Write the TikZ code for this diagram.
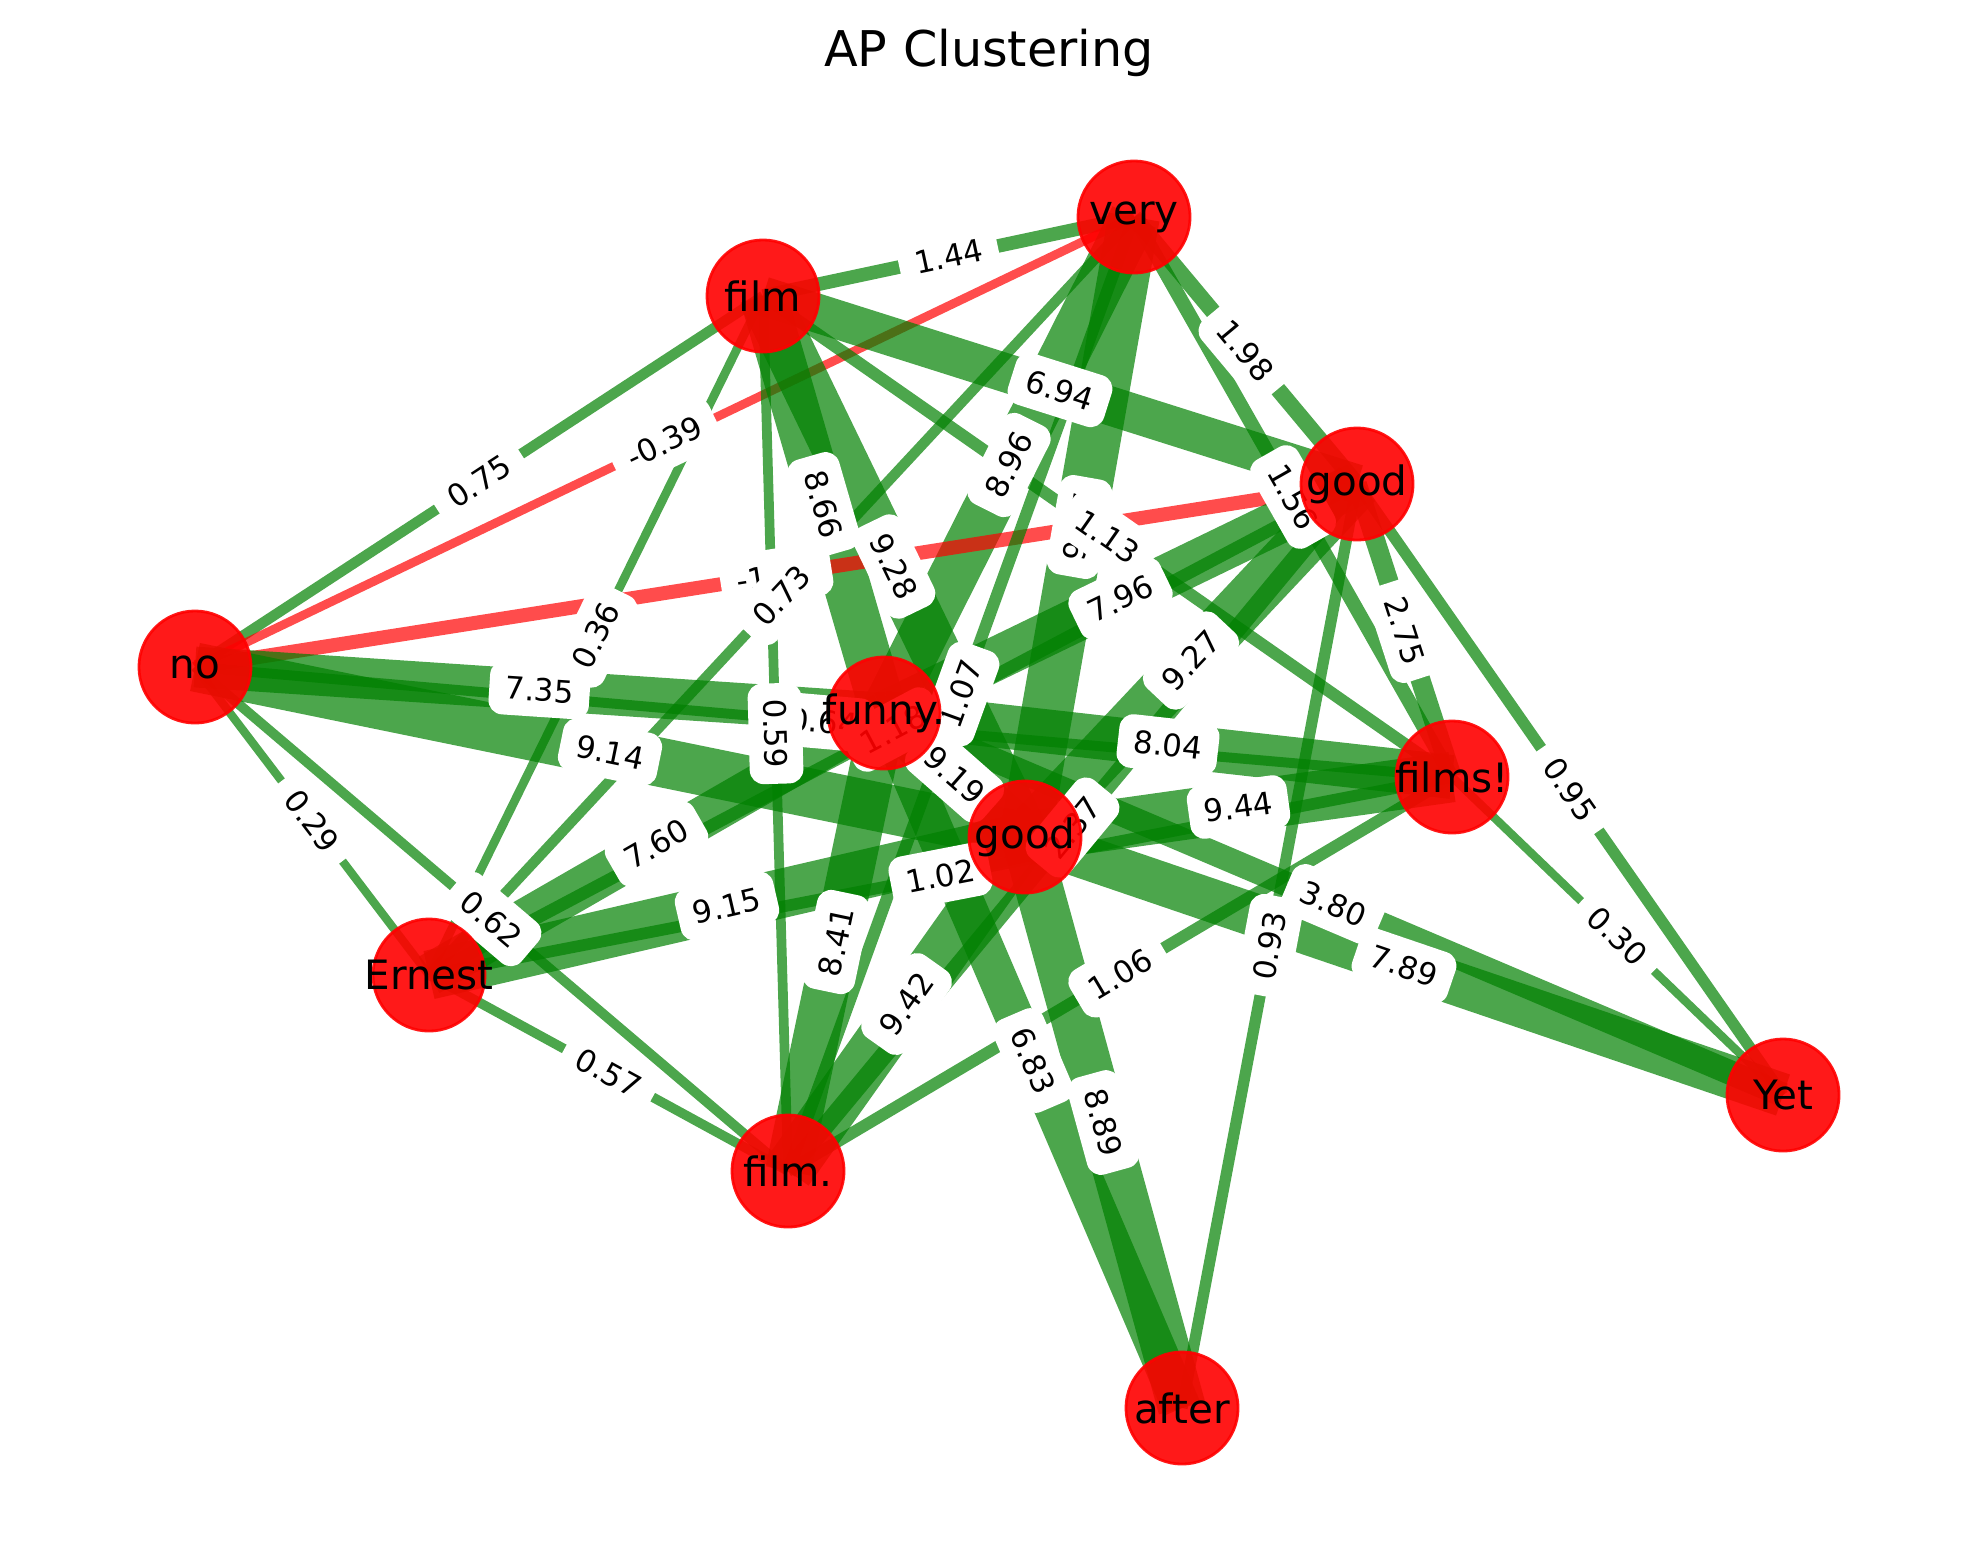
\documentclass[tikz,border=0pt]{standalone}
\usepackage{fontspec}
\setmainfont{DejaVu Sans}
\usepackage{tikz}
\definecolor{nxgreen}{HTML}{008000}
\definecolor{nxred}{HTML}{FF0000}
\pgfdeclarelayer{edgelayer}
\pgfdeclarelayer{labellayer}
\pgfsetlayers{edgelayer,labellayer,main}
\tikzset{
  wordnode/.style={circle, draw=nxred, fill=nxred, fill opacity=0.9, draw opacity=0.9, text opacity=1,
    line width=0.8pt, minimum size=1.12cm, inner sep=0pt, font=\fontsize{11.5}{13}\selectfont},
  poslink/.style={draw=nxgreen, draw opacity=0.7},
  neglink/.style={draw=nxred, draw opacity=0.7},
  wt/.style={line width={(7+4.6*abs(#1))*0.2845pt}},
  wlabel/.style={fill=white, rounded corners=4pt, inner xsep=4.5pt, inner ysep=4.3pt,
    font=\fontsize{8.8}{10}\selectfont}
}
% word text that does not widen its circle
\newcommand{\wordtext}[1]{\makebox[0pt]{#1}}
% edge between two words: weight gives width and label
\newcommand{\simlink}[4][poslink]{%
  \begin{pgfonlayer}{edgelayer}
    \draw[#1, wt=#4] (#2.center) -- (#3.center);
  \end{pgfonlayer}
  \begin{pgfonlayer}{labellayer}
    \path (#2.center) -- (#3.center) node[wlabel, midway, sloped] {#4};
  \end{pgfonlayer}}

\begin{document}
\begin{tikzpicture}[x=0.01cm, y=-0.01cm]
  \useasboundingbox (0,0) rectangle (1980,1563);

  %%%%% WORDS %%%%%
  \node[wordnode] (very)    at (1134, 217) {\wordtext{very}};
  \node[wordnode] (film)    at (763, 296)  {\wordtext{film}};
  \node[wordnode] (good)    at (1357, 484) {\wordtext{good}};
  \node[wordnode] (no)      at (195, 667)  {\wordtext{no}};
  \node[wordnode] (funny)   at (884, 713)  {\wordtext{funny.}};
  \node[wordnode] (films)   at (1452, 777) {\wordtext{films!}};
  \node[wordnode] (goodB)   at (1025, 837) {\wordtext{good}};
  \node[wordnode] (ernest)  at (429, 975)  {\wordtext{Ernest}};
  \node[wordnode] (filmdot) at (788, 1171) {\wordtext{film.}};
  \node[wordnode] (yet)     at (1783, 1095) {\wordtext{Yet}};
  \node[wordnode] (after)   at (1182, 1408) {\wordtext{after}};

  \node (title) at (989, 53) {\fontsize{14}{16}\selectfont AP Clustering};

  %%%%% LINKS %%%%%
  \simlink{film}{very}{1.44}
  \simlink{no}{film}{0.75}
  \simlink[neglink]{no}{very}{-0.39}
  \simlink{film}{good}{6.94}
  \simlink{very}{good}{1.98}
  \simlink{very}{funny}{8.96}
  \simlink{film}{funny}{8.66}
  \simlink{film}{goodB}{9.28}
  \simlink{very}{films}{1.56}
  \simlink{very}{goodB}{9.67}
  \simlink{film}{films}{1.13}
  \simlink[neglink]{no}{good}{-1.52}
  \simlink{very}{ernest}{0.73}
  \simlink{film}{ernest}{0.36}
  \simlink{good}{funny}{7.96}
  \simlink{good}{goodB}{9.27}
  \simlink{good}{films}{2.75}
  \simlink{good}{yet}{0.95}
  \simlink{very}{filmdot}{1.07}
  \simlink{no}{funny}{7.35}
  \simlink{no}{goodB}{9.14}
  \simlink{no}{films}{0.64}
  \simlink{film}{filmdot}{0.59}
  \simlink{ernest}{good}{1.18}
  \simlink{funny}{goodB}{9.19}
  \simlink{funny}{films}{8.04}
  \simlink{goodB}{films}{9.44}
  \simlink{filmdot}{good}{2.37}
  \simlink{ernest}{funny}{7.60}
  \simlink{ernest}{goodB}{9.15}
  \simlink{ernest}{films}{1.02}
  \simlink{no}{ernest}{0.29}
  \simlink{no}{filmdot}{0.62}
  \simlink{ernest}{filmdot}{0.57}
  \simlink{funny}{filmdot}{8.41}
  \simlink{goodB}{filmdot}{9.42}
  \simlink{filmdot}{films}{1.06}
  \simlink{funny}{after}{6.83}
  \simlink{goodB}{after}{8.89}
  \simlink{good}{after}{0.93}
  \simlink{funny}{yet}{3.80}
  \simlink{goodB}{yet}{7.89}
  \simlink{films}{yet}{0.30}
\end{tikzpicture}
\end{document}
